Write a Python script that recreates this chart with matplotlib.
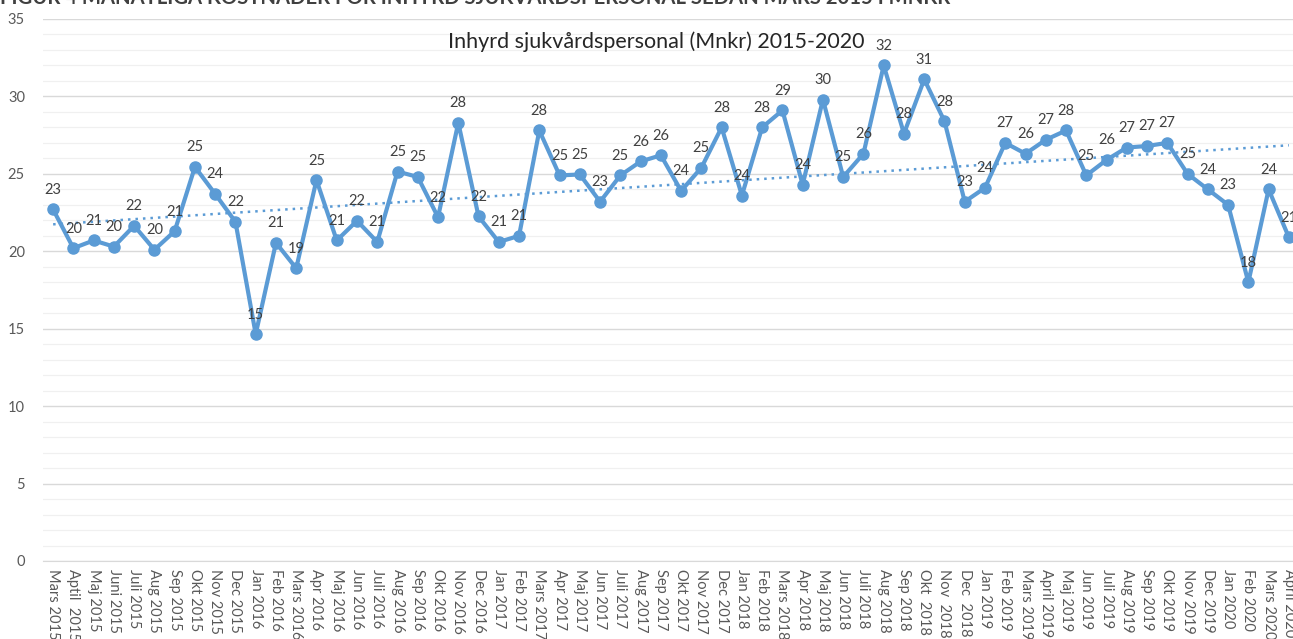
import numpy as np
import matplotlib
matplotlib.use("Agg")
import matplotlib.pyplot as plt
from matplotlib.ticker import MultipleLocator

months = ["Mars 2015", "Aptil  2015", "Maj 2015", "Juni 2015", "Juli 2015", "Aug 2015", "Sep 2015",
          "Okt 2015", "Nov 2015", "Dec 2015", "Jan 2016", "Feb 2016", "Mars 2016", "Apr 2016",
          "Maj 2016", "Jun 2016", "Juli 2016", "Aug 2016", "Sep 2016", "Okt 2016", "Nov 2016",
          "Dec 2016", "Jan 2017", "Feb 2017", "Mars 2017", "Apr 2017", "Maj 2017", "Jun 2017",
          "Juli 2017", "Aug 2017", "Sep 2017", "Okt 2017", "Nov 2017", "Dec 2017", "Jan 2018",
          "Feb 2018", "Mars 2018", "Apr 2018", "Maj 2018", "Jun 2018", "Juli 2018", "Aug 2018",
          "Sep 2018", "Okt  2018", "Nov  2018", "Dec  2018", "Jan 2019", "Feb 2019", "Mars 2019",
          "April 2019", "Maj 2019", "Jun 2019", "Juli 2019", "Aug 2019", "Sep 2019", "Okt 2019",
          "Nov 2019", "Dec 2019", "Jan 2020", "Feb 2020", "Mars 2020", "April 2020"]

costs = [22.7, 20.2, 20.7, 20.3, 21.65, 20.1, 21.3, 25.45, 23.7, 21.9,
         14.65, 20.55, 18.9, 24.6, 20.7, 21.97, 20.6, 25.15, 24.8, 22.2,
         28.3, 22.25, 20.6, 21.0, 27.8, 24.9, 24.96, 23.2, 24.9, 25.8,
         26.2, 23.9, 25.4, 28.0, 23.6, 28.0, 29.1, 24.3, 29.8, 24.8,
         26.3, 32.0, 27.6, 31.1, 28.4, 23.2, 24.1, 27.0, 26.3, 27.2,
         27.8, 24.9, 25.9, 26.7, 26.8, 27.0, 25.0, 24.0, 23.0, 18.0,
         24.0, 20.9]

# data labels as printed in the chart (rounded values)
labels = [23, 20, 21, 20, 22, 20, 21, 25, 24, 22,
          15, 21, 19, 25, 21, 22, 21, 25, 25, 22,
          28, 22, 21, 21, 28, 25, 25, 23, 25, 26,
          26, 24, 25, 28, 24, 28, 29, 24, 30, 25,
          26, 32, 28, 31, 28, 23, 24, 27, 26, 27,
          28, 25, 26, 27, 27, 27, 25, 24, 23, 18,
          24, 21]

chart_title = "Inhyrd sjukvårdspersonal (Mnkr) 2015-2020"
figure_caption = "FIGUR 4 MÅNATLIGA KOSTNADER FÖR INHYRD SJUKVÅRDSPERSONAL SEDAN MARS 2015 I MNKR"

plt.rcParams['font.family'] = ['Lato', 'DejaVu Sans']

W, H = 1293, 639
fig = plt.figure(figsize=(W / 100, H / 100), dpi=100)
fig.patch.set_facecolor("white")

left_px, right_px, top_px, bottom_px = 43, 1299, 19, 561
ax = fig.add_axes([left_px / W, (H - bottom_px) / H, (right_px - left_px) / W, (bottom_px - top_px) / H])

x = np.arange(len(costs))
y = np.array(costs)
line_color = "#5B9BD5"

ax.plot(x, y, color=line_color, lw=3.0, marker="o", ms=8, zorder=3, solid_joinstyle="round")

coef = np.polyfit(x, y, 1)
ax.plot(x, np.polyval(coef, x), color=line_color, lw=1.8, ls=(0, (1, 2)), zorder=2)

for xi, yi, lab in zip(x, y, labels):
    ax.annotate(str(lab), (xi, yi), xytext=(0, 9), textcoords="offset points",
                ha="center", va="bottom", fontsize=10.5, color="#404040", zorder=4)

ax.set_xlim(-0.5, len(costs) - 0.5)
ax.set_ylim(0, 35)
ax.yaxis.set_major_locator(MultipleLocator(5))
ax.yaxis.set_minor_locator(MultipleLocator(1))
ax.grid(which="major", axis="y", color="#D9D9D9", lw=1.0, zorder=0)
ax.grid(which="minor", axis="y", color="#F0F0F0", lw=0.9, zorder=0)
ax.set_axisbelow(True)
for s in ["left", "right", "top"]:
    ax.spines[s].set_visible(False)
ax.spines["bottom"].set_color("#D9D9D9")

ax.set_xticks(x)
ax.set_xticklabels(months, rotation=270, fontsize=10.5, color="#595959", va="top", ha="center")
ax.tick_params(axis="x", length=0, pad=6)
ax.tick_params(axis="y", which="both", length=0, pad=13, labelsize=10.5, labelcolor="#595959")

fig.text(656 / W, (H - 42) / H, chart_title, ha="center", va="center", fontsize=15.5, color="#262626")
fig.text(0, (H - 4) / H, figure_caption, ha="left", va="baseline", fontsize=14.6, fontweight="bold", color="#404040")

fig.savefig("out.png", dpi=100, facecolor="white")
